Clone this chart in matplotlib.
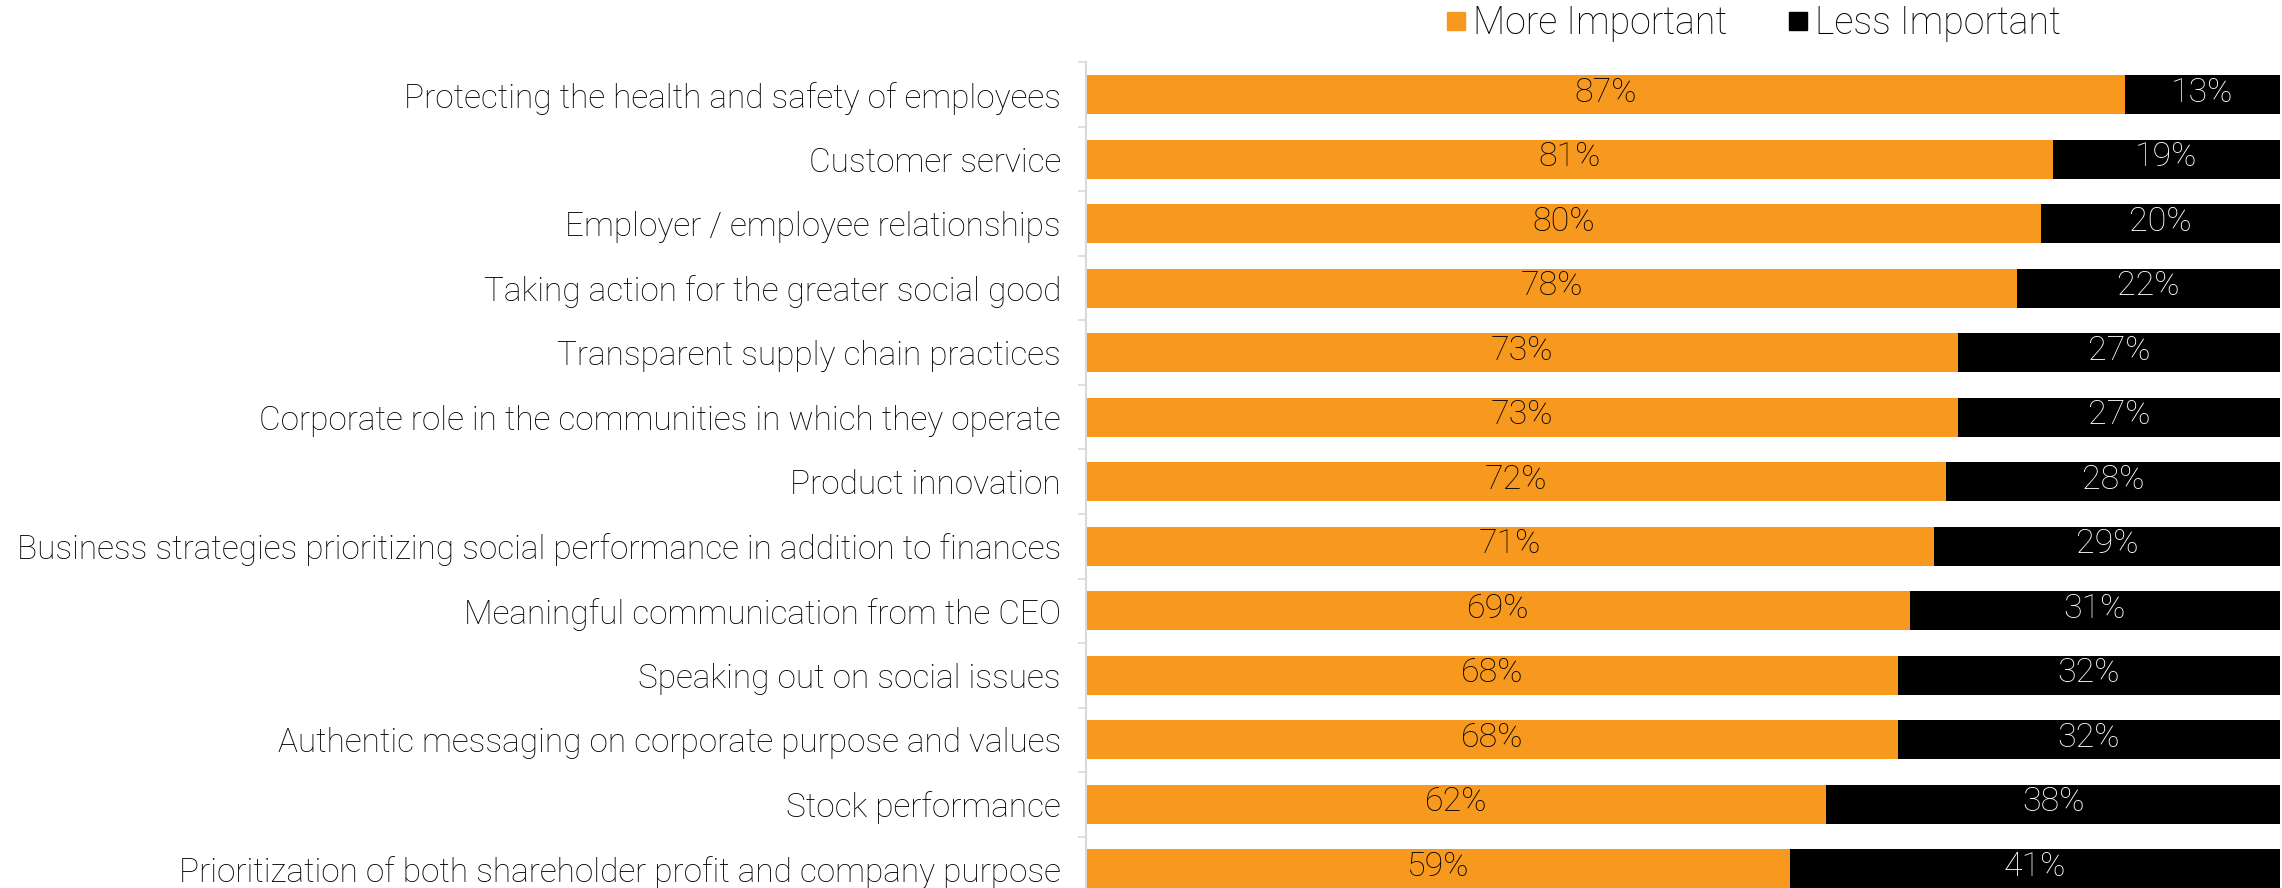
import matplotlib
matplotlib.use("Agg")
import matplotlib.pyplot as plt
import matplotlib.transforms as mtransforms
from matplotlib.lines import Line2D
import numpy as np

categories = [
    "Protecting the health and safety of employees",
    "Customer service",
    "Employer / employee relationships",
    "Taking action for the greater social good",
    "Transparent supply chain practices",
    "Corporate role in the communities in which they operate",
    "Product innovation",
    "Business strategies prioritizing social performance in addition to finances",
    "Meaningful communication from the CEO",
    "Speaking out on social issues",
    "Authentic messaging on corporate purpose and values",
    "Stock performance",
    "Prioritization of both shareholder profit and company purpose",
]
more_important = [87, 81, 80, 78, 73, 73, 72, 71, 69, 68, 68, 62, 59]
less_important = [13, 19, 20, 22, 27, 27, 28, 29, 31, 32, 32, 38, 41]
series_names = ["More Important", "Less Important"]

ORANGE = "#F7981F"
BLACK = "#000000"
GRID = "#D9D9D9"

plt.rcParams["font.family"] = ["Roboto", "DejaVu Sans"]
plt.rcParams["font.weight"] = "light"

W, H, DPI = 2282, 888, 100
fig = plt.figure(figsize=(W / DPI, H / DPI), dpi=DPI)

# axes spans past the bottom edge so the last row is clipped like a slide crop
left_px, right_px = 1086, 2280
top_px, bottom_px = 62.5, 901
ax = fig.add_axes([left_px / W, (H - bottom_px) / H,
                   (right_px - left_px) / W, (bottom_px - top_px) / H])

y = np.arange(len(categories))
bar_h = 0.61
ax.barh(y, more_important, height=bar_h, color=ORANGE, edgecolor="none")
ax.barh(y, less_important, left=more_important, height=bar_h, color=BLACK,
        edgecolor="none")

for yi, m, l in zip(y, more_important, less_important):
    ax.text(m / 2, yi - 0.03, f"{m}%", ha="center", va="center", fontsize=24.5,
            color="black", fontweight="light")
    ax.text(m + l / 2, yi - 0.03, f"{l}%", ha="center", va="center",
            fontsize=24.5, color="white", fontweight="light")

ax.set_xlim(0, 100)
ax.set_ylim(len(categories) - 0.5, -0.5)
ax.set_yticks(y)
ax.set_yticklabels(categories, fontsize=24.0, fontweight="light")
# lift category labels slightly so they sit level with the bar centres
lift = mtransforms.ScaledTranslation(0, 0.04, fig.dpi_scale_trans)
for lab in ax.get_yticklabels():
    lab.set_transform(lab.get_transform() + lift)
ax.set_yticks(np.arange(-0.5, len(categories), 1.0), minor=True)
ax.tick_params(axis="y", which="major", length=0, pad=18)
ax.tick_params(axis="y", which="minor", length=6, width=1.2, color=GRID)
ax.set_xticks([])
for side in ["top", "right", "bottom"]:
    ax.spines[side].set_visible(False)
ax.spines["left"].set_color(GRID)
ax.spines["left"].set_linewidth(1.5)

handles = [
    Line2D([], [], marker="s", linestyle="none", markersize=13,
           markerfacecolor=ORANGE, markeredgecolor=ORANGE),
    Line2D([], [], marker="s", linestyle="none", markersize=13,
           markerfacecolor=BLACK, markeredgecolor=BLACK),
]
fig.legend(handles, series_names, loc="center", ncol=2,
           bbox_to_anchor=(1753 / W, 1 - 23 / H), frameon=False,
           prop={"size": 27, "weight": "light"}, handlelength=0.6,
           handletextpad=0.15, columnspacing=1.6)

fig.savefig("out.png", dpi=DPI)
